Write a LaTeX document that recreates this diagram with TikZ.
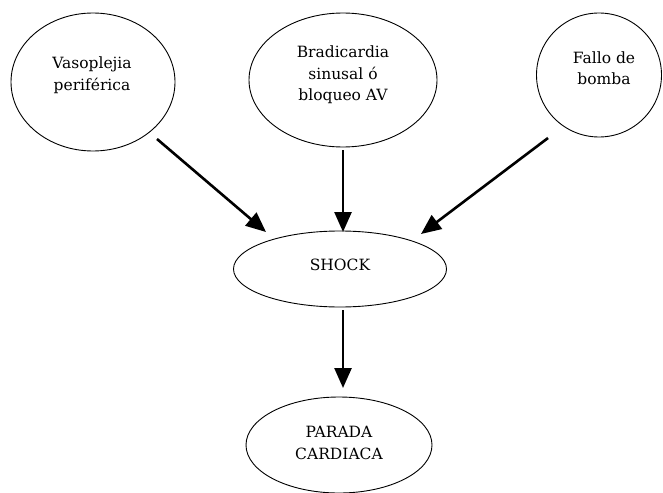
\documentclass[tikz,border=0pt]{standalone}
\usepackage{fontspec}
\setmainfont{DejaVu Serif}
\usetikzlibrary{shapes.geometric,arrows.meta}
\begin{document}
\begin{tikzpicture}[x=1pt,y=-1pt,
  oval/.style={draw=black,line width=0.9pt,ellipse,inner sep=0pt},
  lbl/.style={align=center,font=\fontsize{15.5}{21.5}\selectfont,inner sep=0pt},
  arr/.style={line width=2.6pt,-{Triangle[length=20pt,width=17pt]}}]
\useasboundingbox (0,0) rectangle (663,492);
\node[oval,minimum width=164pt,minimum height=138pt] (vaso) at (93,82) {};
\node[oval,minimum width=188pt,minimum height=134pt] (brad) at (343,80) {};
\node[oval,minimum width=125pt,minimum height=124pt] (fallo) at (599,75) {};
\node[oval,minimum width=213pt,minimum height=76pt] (shock) at (340,269) {};
\node[oval,minimum width=186pt,minimum height=96pt] (parada) at (339,445) {};
\node[lbl] (tvaso) at (92,75) {Vasoplejia\\perif\'erica};
\node[lbl] (tbrad) at (343,75) {Bradicardia\\sinusal \'o\\bloqueo AV};
\node[lbl] (tfallo) at (604,68) {Fallo de\\bomba};
\node[lbl] (tshock) at (340,265) {SHOCK};
\node[lbl] (tparada) at (339,443) {PARADA\\CARDIACA};
\coordinate (a1) at (157,139);
\coordinate (a1e) at (266,232);
\coordinate (a2) at (343,150);
\coordinate (a2e) at (343,232);
\coordinate (a3) at (548,138);
\coordinate (a3e) at (421,234);
\coordinate (a4) at (343,310);
\coordinate (a4e) at (343,388);
\draw[arr] (a1) -- (a1e);
\draw[arr] (a2) -- (a2e);
\draw[arr] (a3) -- (a3e);
\draw[arr] (a4) -- (a4e);
\end{tikzpicture}
\end{document}
